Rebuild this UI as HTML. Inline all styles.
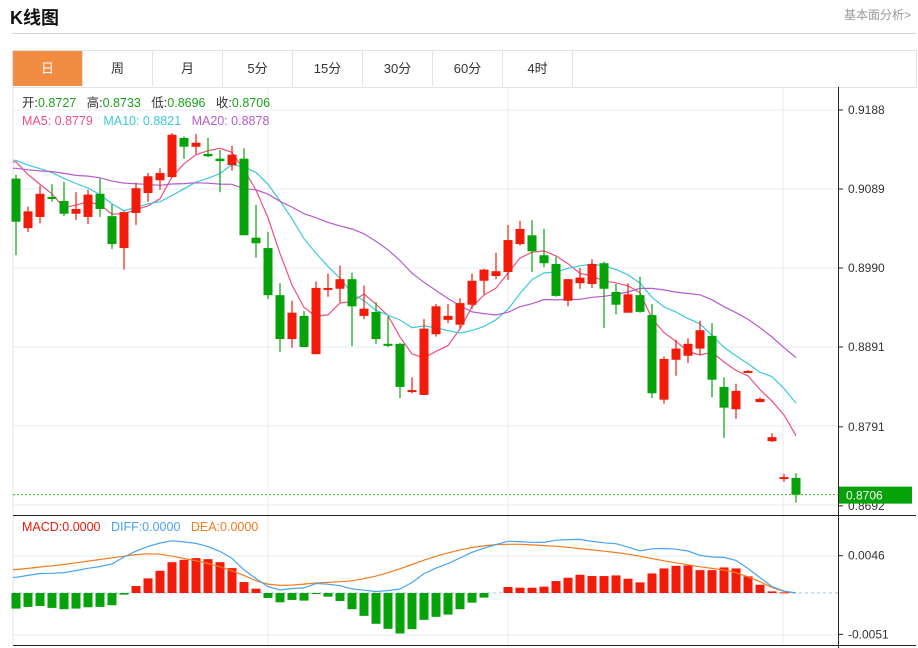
<!DOCTYPE html>
<html><head><meta charset="utf-8">
<style>
body{margin:0;background:#fff;width:918px;height:648px;overflow:hidden;font-family:"Liberation Sans","Noto Sans CJK SC",sans-serif;position:relative}
.t{position:absolute}
.tab{position:absolute;top:51px;height:35px;width:69px;border-right:1px solid #e3e3e3;text-align:center;line-height:35px;font-size:13px;color:#333}
</style></head><body>
<div class="t" style="left:10px;top:4px;font-size:18px;font-weight:bold;color:#111">K线图</div>
<div class="t" style="left:844px;top:6px;font-size:12px;color:#999">基本面分析&gt;</div>
<div class="t" style="left:12px;top:33px;width:904px;height:1px;background:#d4d4d4"></div>
<div class="t" style="left:12px;top:50px;width:903px;height:36px;border:1px solid #e3e3e3"></div>
<div class="tab" style="left:13px;background:#f18d42;color:#fff">日</div>
<div class="tab" style="left:83px">周</div>
<div class="tab" style="left:153px">月</div>
<div class="tab" style="left:223px">5分</div>
<div class="tab" style="left:293px">15分</div>
<div class="tab" style="left:363px">30分</div>
<div class="tab" style="left:433px">60分</div>
<div class="tab" style="left:503px">4时</div>
<svg id="c" class="t" style="left:0;top:0" width="918" height="648"></svg>
<script>
const opens=[.9102,.9040,.9054,.9079,.9074,.9058,.9054,.9083,.9055,.9015,.9059,.9084,.9100,.9104,.9153,.9142,.9133,.9127,.9119,.9127,.9028,.9015,.8956,.8901,.8930,.8882,.8964,.8964,.8976,.8930,.8935,.8895,.8895,.8836,.8831,.8907,.8925,.8919,.8944,.8974,.8980,.8985,.9020,.9031,.9006,.8995,.8949,.8971,.8970,.8996,.8960,.8934,.8956,.8931,.8825,.8875,.8880,.8889,.8905,.8841,.8813,.8859,.8822,.8773,.8727,.8727];
const highs=[.9107,.9067,.9093,.9095,.9098,.9085,.9088,.9102,.9070,.9061,.9097,.9109,.9115,.9159,.9155,.9158,.9153,.9138,.9143,.9140,.9069,.9035,.8971,.8949,.8936,.8973,.8983,.8993,.8984,.8968,.8947,.8929,.8896,.8853,.8926,.8945,.8945,.8952,.8983,.8989,.9009,.9044,.9049,.9050,.9039,.9004,.8976,.8990,.9001,.8998,.8970,.8971,.8979,.8945,.8879,.8900,.8902,.8924,.8921,.8853,.8845,.8862,.8828,.8783,.8732,.8733];
const lows=[.9006,.9035,.9046,.9073,.9055,.9050,.9045,.9054,.9014,.8988,.9044,.9073,.9088,.9103,.9127,.9133,.9129,.9085,.9112,.9031,.9003,.8951,.8885,.8890,.8891,.8882,.8954,.8947,.8892,.8926,.8895,.8891,.8827,.8833,.8831,.8904,.8921,.8914,.8939,.8957,.8976,.8975,.9018,.8985,.8991,.8954,.8942,.8964,.8965,.8915,.8932,.8934,.8934,.8827,.8820,.8855,.8871,.8881,.8828,.8777,.8801,.8859,.8822,.8772,.8722,.8696];
const closes=[.9048,.9061,.9083,.9078,.9058,.9064,.9082,.9064,.9020,.9060,.9090,.9105,.9109,.9157,.9142,.9147,.9130,.9124,.9132,.9031,.9021,.8956,.8901,.8934,.8891,.8965,.8965,.8976,.8942,.8939,.8901,.8894,.8841,.8837,.8914,.8942,.8930,.8946,.8974,.8988,.8986,.9025,.9039,.9011,.8996,.8955,.8976,.8978,.8995,.8964,.8944,.8957,.8935,.8833,.8876,.8889,.8895,.8912,.8850,.8815,.8836,.8861,.8826,.8778,.8728,.8706];
const priorCloses=[.9100,.9110,.9095,.9105,.9112,.9100,.9108,.9102,.9110,.9108,.9120,.9130,.9125,.9132,.9128,.9140,.9145,.9138,.9144];
const macdHist=[-19.2,-17.2,-16,-18.4,-20,-19.2,-17.6,-17.2,-15.1,-2,8.6,18,27.4,38,40.9,43,41.7,38,30.7,13.5,5.3,-6.1,-11.5,-8.6,-9.4,-1.2,-4.5,-9.8,-20,-28.2,-38,-44.2,-49.9,-44.6,-33.1,-29.4,-26.6,-20,-11.9,-5.7,0,7.4,6.5,6.5,7.8,14.7,18.8,22.5,20.9,20.9,21.7,17.6,13.1,24.1,30.3,33.5,34,28.2,28.2,31.5,30.3,20.5,10.2,2,0.8,0];
const deaVals=[29,30.3,32,33.5,35.2,37.2,39.3,41.3,43.4,45.4,47.4,48.3,47.9,45.4,42.5,39.7,36.4,32.3,27.4,21.7,15.1,11,9.4,9.8,11,12.3,13.1,13.9,15.1,17.6,20.9,25,29.9,35.2,40.5,45.4,49.5,53.2,56.1,58.1,59.7,60.1,60.1,59.3,58.5,57.7,56.4,54.8,53.2,51.5,49.9,47.8,45.4,42.5,39.7,37.2,34.8,32.3,30.3,28.2,25,20,13.9,6.9,2,0];
const priceTicks=[.9188,.9089,.8990,.8891,.8791,.8692];
const macdTicks=[0.0046,-0.0051];

const svg=document.getElementById('c');const NS='http://www.w3.org/2000/svg';
function el(t,a,txt){const e=document.createElementNS(NS,t);for(const k in a)e.setAttribute(k,a[k]);if(txt!==undefined)e.textContent=txt;svg.appendChild(e);return e;}
const X=i=>16+12*i;
const Y=p=>110+(0.9188-p)*7980;
const MY=v=>593-v*1e-4*8110;
const RED='#f21a08',GRN='#06a20a';
// grid
let g;
[110,189,268,347,426,505,556,635].forEach(y=>{g=el('line',{x1:13,x2:838,y1:y,y2:y,stroke:'#e6ecf2'});

});
[268,508,783].forEach(x=>{g=el('line',{x1:x,x2:x,y1:88,y2:645,stroke:'#e6ecf2'});

});
g=el('line',{x1:13,x2:13,y1:87,y2:645,stroke:'#e3e3e3'});


g=el('line',{x1:838.5,x2:838.5,y1:87,y2:648,stroke:'#222'});


[515.5,645.5].forEach(y=>{g=el('line',{x1:13,x2:916,y1:y,y2:y,stroke:'#222'});

});
priceTicks.forEach(p=>{const y=Y(p);
g=el('line',{x1:838,x2:843,y1:y,y2:y,stroke:'#222'});


g=el('text',{x:848,y:y+4,'font-size':12,fill:'#333'},p.toFixed(4));

});
macdTicks.forEach(v=>{const y=MY(v*1e4);
g=el('line',{x1:838,x2:843,y1:y,y2:y,stroke:'#222'});


g=el('text',{x:848,y:y+4,'font-size':12,fill:'#333'},v.toFixed(4));

});
// MAs
const all=priorCloses.concat(closes);
function ma(n){return closes.map((c,i)=>{let s=0;for(let k=0;k<n;k++)s+=all[i+priorCloses.length-k];return s/n;});}
[[5,'#f0507f','ma5-line'],[10,'#3cc9dc','ma10-line'],[20,'#b75ccd','ma20-line']].forEach(([n,c,nm])=>{
const m=ma(n);let d='M13,'+Y(m[0]).toFixed(1);m.forEach((v,i)=>d+=' L'+X(i)+','+Y(v).toFixed(1));
g=el('path',{d:d,fill:'none',stroke:c,'stroke-width':1.2});

});
// candles
closes.forEach((c,i)=>{const o=opens[i];const col=c>=o?RED:GRN;const x=X(i);
g=el('line',{x1:x,x2:x,y1:Y(highs[i]),y2:Y(lows[i]),stroke:col,'stroke-width':1.2});


const t=Math.min(Y(o),Y(c)),h=Math.max(2,Math.abs(Y(o)-Y(c)));
g=el('rect',{x:x-4.5,y:t,width:9,height:h,fill:col});

});
// last price line
const ly=Y(closes[closes.length-1]);
g=el('line',{x1:13,x2:838,y1:ly,y2:ly,stroke:'#2bbd2b','stroke-dasharray':'2,2'});


g=el('rect',{x:839,y:ly-8,width:73,height:17,fill:GRN});


g=el('text',{x:846,y:ly+5,'font-size':12,fill:'#fff'},closes[closes.length-1].toFixed(4));


// MACD
g=el('line',{x1:13,x2:838,y1:593,y2:593,stroke:'#9cc4e4','stroke-dasharray':'3,3'});


macdHist.forEach((v,i)=>{if(!v)return;const y=MY(v);
g=el('rect',{x:X(i)-4.5,y:Math.min(y,593),width:9,height:Math.max(1,Math.abs(y-593)),fill:v>0?RED:GRN});

});
const diff=deaVals.map((d,i)=>d+macdHist[i]/2);
[[deaVals,'#f57c1f','dea-line'],[diff,'#4aa3f0','diff-line']].forEach(([a,c,nm])=>{
let d='M13,'+MY(a[0]).toFixed(1);a.forEach((v,i)=>d+=' L'+X(i)+','+MY(v).toFixed(1));
g=el('path',{d:d,fill:'none',stroke:c,'stroke-width':1.2});

});
// legends
function leg(x,y,parts,nm){const t=el('text',{x:x,y:y,'font-size':12.5});


parts.forEach(([s,c])=>{const sp=document.createElementNS(NS,'tspan');sp.setAttribute('fill',c);sp.textContent=s;t.appendChild(sp);});}
leg(22,107,[['开:','#333'],['0.8727   ','#1aa31a'],['高:','#333'],['0.8733   ','#1aa31a'],['低:','#333'],['0.8696   ','#1aa31a'],['收:','#333'],['0.8706','#1aa31a']],'ohlc-legend');
leg(22,125,[['MA5: 0.8779   ','#f0507f'],['MA10: 0.8821   ','#3cc9dc'],['MA20: 0.8878','#b75ccd']],'ma-legend');
leg(22,531,[['MACD:0.0000   ','#f21a08'],['DIFF:0.0000   ','#4aa3f0'],['DEA:0.0000','#f57c1f']],'macd-legend');
svg.querySelectorAll('text').forEach(t=>t.setAttribute('xml:space','preserve'));
svg.querySelectorAll('text').forEach(t=>t.style.whiteSpace='pre');
</script>
</body></html>
